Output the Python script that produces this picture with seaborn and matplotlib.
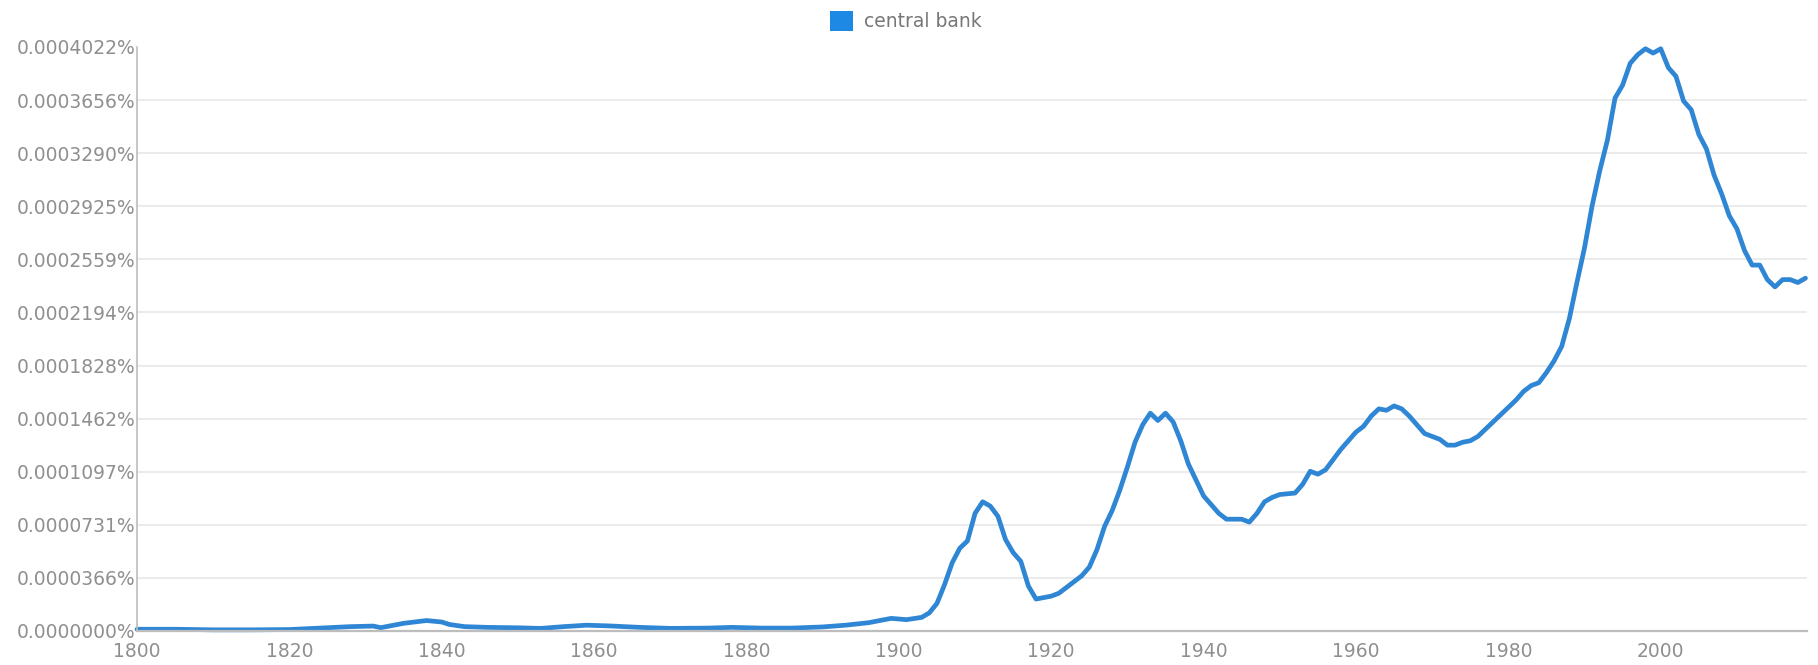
import numpy as np
import pandas as pd
import matplotlib
matplotlib.use("Agg")
import matplotlib.pyplot as plt
from matplotlib.patches import Patch
import seaborn as sns

series_name = "central bank"

years = [1800, 1805, 1810, 1815, 1820, 1824, 1828, 1831, 1832, 1835, 1838, 1840, 1841, 1843,
         1846, 1850, 1853, 1856, 1859, 1862, 1866, 1870, 1875, 1878, 1882, 1886, 1890, 1893,
         1896, 1899, 1901, 1903, 1904, 1905, 1906, 1907, 1908, 1909, 1910, 1911, 1912, 1913,
         1914, 1915, 1916, 1917, 1918, 1919, 1920, 1921, 1922, 1923, 1924, 1925, 1926, 1927,
         1928, 1929, 1930, 1931, 1932, 1933, 1934, 1935, 1936, 1937, 1938, 1939, 1940, 1941,
         1942, 1943, 1944, 1945, 1946, 1947, 1948, 1949, 1950, 1952, 1953, 1954, 1955, 1956,
         1957, 1958, 1959, 1960, 1961, 1962, 1963, 1964, 1965, 1966, 1967, 1968, 1969, 1970,
         1971, 1972, 1973, 1974, 1975, 1976, 1977, 1978, 1979, 1980, 1981, 1982, 1983, 1984,
         1985, 1986, 1987, 1988, 1989, 1990, 1991, 1992, 1993, 1994, 1995, 1996, 1997, 1998,
         1999, 2000, 2001, 2002, 2003, 2004, 2005, 2006, 2007, 2008, 2009, 2010, 2011, 2012,
         2013, 2014, 2015, 2016, 2017, 2018, 2019]

freq_pct = [0.0000012, 0.0000012, 0.0000008, 0.0000008, 0.0000010, 0.0000020, 0.0000030,
            0.0000034, 0.0000023, 0.0000053, 0.0000072, 0.0000062, 0.0000045, 0.0000030,
            0.0000025, 0.0000022, 0.0000018, 0.0000030, 0.0000040, 0.0000035, 0.0000025,
            0.0000018, 0.0000020, 0.0000025, 0.0000020, 0.0000020, 0.0000028, 0.0000040,
            0.0000057, 0.0000087, 0.0000078, 0.0000094, 0.0000125, 0.0000190, 0.0000320,
            0.0000470, 0.0000570, 0.0000620, 0.0000810, 0.0000890, 0.0000860, 0.0000790,
            0.0000630, 0.0000540, 0.0000480, 0.0000310, 0.0000220, 0.0000230, 0.0000240,
            0.0000260, 0.0000300, 0.0000340, 0.0000380, 0.0000440, 0.0000560, 0.0000720,
            0.0000830, 0.0000970, 0.0001130, 0.0001300, 0.0001420, 0.0001500, 0.0001450,
            0.0001500, 0.0001440, 0.0001310, 0.0001150, 0.0001040, 0.0000930, 0.0000870,
            0.0000810, 0.0000770, 0.0000770, 0.0000770, 0.0000750, 0.0000810, 0.0000890,
            0.0000920, 0.0000940, 0.0000950, 0.0001010, 0.0001100, 0.0001080, 0.0001110,
            0.0001180, 0.0001250, 0.0001310, 0.0001370, 0.0001410, 0.0001480, 0.0001530,
            0.0001520, 0.0001550, 0.0001530, 0.0001480, 0.0001420, 0.0001360, 0.0001340,
            0.0001320, 0.0001280, 0.0001280, 0.0001300, 0.0001310, 0.0001340, 0.0001390,
            0.0001440, 0.0001490, 0.0001540, 0.0001590, 0.0001650, 0.0001690, 0.0001710,
            0.0001780, 0.0001860, 0.0001960, 0.0002150, 0.0002400, 0.0002640, 0.0002930,
            0.0003170, 0.0003380, 0.0003670, 0.0003760, 0.0003910, 0.0003970, 0.0004010,
            0.0003980, 0.0004010, 0.0003880, 0.0003820, 0.0003650, 0.0003590, 0.0003420,
            0.0003320, 0.0003140, 0.0003010, 0.0002860, 0.0002770, 0.0002620, 0.0002520,
            0.0002520, 0.0002420, 0.0002370, 0.0002420, 0.0002420, 0.0002400, 0.0002430]

y_tick_labels = ["0.0000000%", "0.0000366%", "0.0000731%", "0.0001097%", "0.0001462%",
                 "0.0001828%", "0.0002194%", "0.0002559%", "0.0002925%", "0.0003290%",
                 "0.0003656%", "0.0004022%"]
x_ticks = [1800, 1820, 1840, 1860, 1880, 1900, 1920, 1940, 1960, 1980, 2000]

df = pd.DataFrame({"year": years, "value": freq_pct})

sns.set_theme(style="white")
plt.rcParams["font.family"] = ["DejaVu Sans"]

W, H = 1818, 665
fig = plt.figure(figsize=(W / 100, H / 100), dpi=100)
ax = fig.add_axes([137 / W, 1 - 631 / H, (1807 - 137) / W, (631 - 47) / H])

line_color = "#2e86d4"
sns.lineplot(data=df, x="year", y="value", ax=ax, color=line_color, linewidth=3.4,
             legend=False)
for ln in ax.lines:
    ln.set_clip_on(False)
    ln.set_solid_joinstyle("round")
    ln.set_solid_capstyle("round")

y_ticks = [float(s.rstrip("%")) for s in y_tick_labels]
ax.set_ylim(0, y_ticks[-1])
ax.set_xlim(1800, 2019.2)
ax.set_yticks(y_ticks)
ax.set_yticklabels(y_tick_labels)
ax.set_xticks(x_ticks)
ax.set_xticklabels([str(x) for x in x_ticks])
ax.set_xlabel("")
ax.set_ylabel("")

ax.tick_params(axis="both", length=0, labelsize=13.5, labelcolor="#8f8f8f")
ax.tick_params(axis="y", pad=1)
ax.tick_params(axis="x", pad=8)

ax.yaxis.grid(True, color="#e8e8e8", linewidth=1.2)
ax.xaxis.grid(False)
ax.set_axisbelow(True)
gl = ax.get_ygridlines()
gl[-1].set_visible(False)

for side in ["top", "right"]:
    ax.spines[side].set_visible(False)
ax.spines["left"].set_color("#bdbdbd")
ax.spines["left"].set_linewidth(1.2)
ax.spines["bottom"].set_color("#bdbdbd")
ax.spines["bottom"].set_linewidth(1.6)

handle = Patch(facecolor="#1e88e5", edgecolor="none", label=series_name)
fig.legend(handles=[handle], loc="center", bbox_to_anchor=(906 / W, 1 - 21 / H),
           frameon=False, fontsize=13.5, labelcolor="#777777",
           handlelength=1.25, handleheight=1.25, handletextpad=0.6, borderpad=0)

fig.savefig("out.png", dpi=100, facecolor="white")
